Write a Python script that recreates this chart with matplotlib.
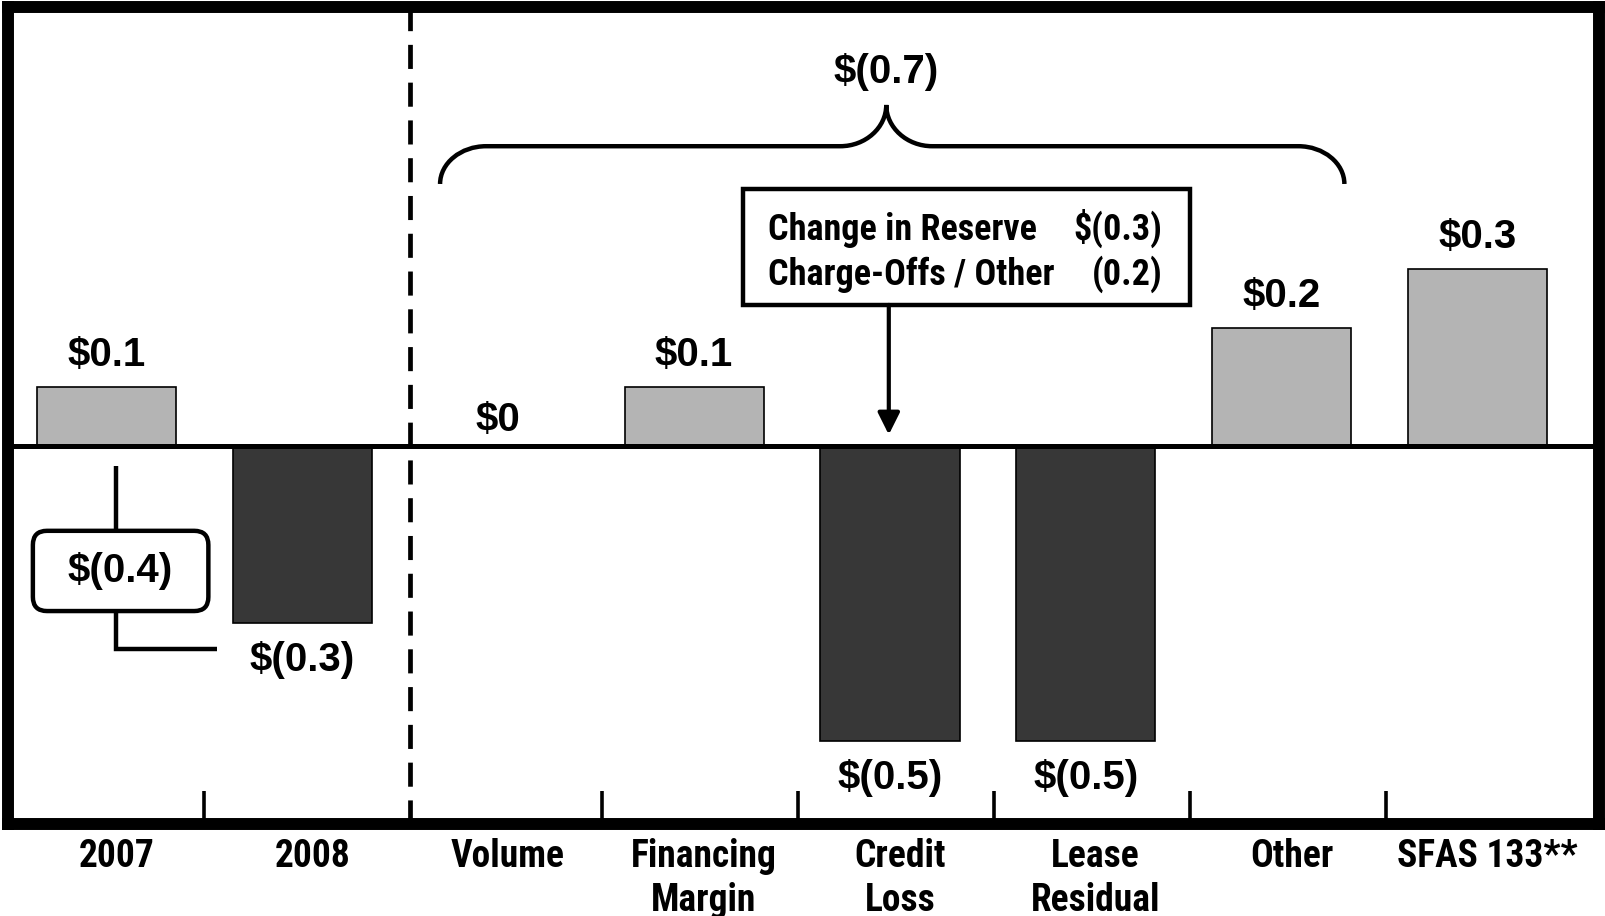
import matplotlib
matplotlib.use('Agg')
import matplotlib.pyplot as plt
from matplotlib import font_manager as fm
from matplotlib.patches import Rectangle, FancyBboxPatch, PathPatch
from matplotlib.path import Path
import numpy as np

# data
categories = ['2007', '2008', 'Volume', 'Financing\nMargin', 'Credit\nLoss',
              'Lease\nResidual', 'Other', 'SFAS 133**']
values = [0.1, -0.3, 0.0, 0.1, -0.5, -0.5, 0.2, 0.3]
value_labels = ['\\$0.1', '\\$(0.3)', '\\$0', '\\$0.1', '\\$(0.5)', '\\$(0.5)', '\\$0.2', '\\$0.3']
reserve_items = ['Change in Reserve', 'Charge-Offs / Other']
reserve_values = ['\\$(0.3)', '(0.2)']
total_label = '\\$(0.7)'
change_label = '\\$(0.4)'

light = '#b4b4b4'
dark = '#373737'
wide = ['Liberation Sans']


def is_bold(f):
    w = f.weight
    if isinstance(w, str):
        return 'bold' in w.lower() or w.lower() in ('heavy', 'black')
    return w >= 600


# look for a narrow bold face like Arial Narrow
narrow_fp = None
cands = [f for f in fm.fontManager.ttflist
         if is_bold(f) and 'italic' not in f.style.lower() and 'oblique' not in f.style.lower()
         and (f.stretch in ('condensed', 'semi-condensed', 'extra-condensed')
              or 'narrow' in f.name.lower() or 'condensed' in f.name.lower()
              or 'narrow' in f.fname.lower() or 'condensed' in f.fname.lower())]
for pref in ['liberationsansnarrow', 'arialnarrow', 'robotocondensed', 'opensanscondensed',
             'dejavusanscondensed', 'notosans', '']:
    hit = [f for f in cands if pref in f.fname.lower().replace('-', '').replace('_', '')]
    if hit:
        narrow_fp = fm.FontProperties(fname=hit[0].fname)
        break
if narrow_fp is None:
    narrow_fp = fm.FontProperties(family='Liberation Sans', weight='bold')
    cat_size, box_size = 22, 21
else:
    cat_size, box_size = 27, 26

fig = plt.figure(figsize=(16.05, 9.16), dpi=100)
ax = fig.add_axes([8/1605, 92/916, 1591/1605, 817/916])
x = np.arange(len(categories))
ax.set_xlim(-0.503, 7.62)
ax.set_ylim(-0.641, 0.744)
for s in ax.spines.values():
    s.set_linewidth(8.6)
ax.set_yticks([])

colors = [light if v >= 0 else dark for v in values]
ax.bar(x, values, width=0.71, color=colors, edgecolor='black', linewidth=1.2, zorder=2)
ax.axhline(0, color='black', lw=3.6, zorder=3)

# dashed separator and bottom ticks
ax.axvline(1.547, color='black', lw=3.4, ls=(0, (5.1, 2.9)), zorder=3)
ticks = [i + 0.5 + 0.03 * (i > 1) for i in range(len(categories) - 1) if i != 1]
ax.vlines(ticks, -0.641, -0.585, color='black', lw=2.6)

ax.set_xticks(x + 0.05, categories)
for lab in ax.get_xticklabels():
    lab.set_fontproperties(narrow_fp)
    lab.set_fontsize(cat_size)
    lab.set_linespacing(1.23)
ax.tick_params(axis='x', length=0, pad=10)

# value labels
for xi, v, t in zip(x, values, value_labels):
    off = 15 if v > 0 else (11 if v == 0 else -35)
    ax.annotate(t, (xi, v), xytext=(0, off), textcoords='offset points',
                ha='center', va='baseline', fontsize=29, fontweight='bold',
                fontfamily=wide, zorder=5)

# brace over the change drivers
xl, xr, xc = 1.703, 6.320, 3.981
y0, y1, y2 = 0.444, 0.508, 0.578
rx = 0.235
k = 0.55
verts = [(xl, y0),
         (xl, y0 + k * (y1 - y0)), (xl + rx * (1 - k), y1), (xl + rx, y1),
         (xc - rx, y1),
         (xc - rx * (1 - k), y1), (xc, y2 - k * (y2 - y1)), (xc, y2),
         (xc, y2 - k * (y2 - y1)), (xc + rx * (1 - k), y1), (xc + rx, y1),
         (xr - rx, y1),
         (xr - rx * (1 - k), y1), (xr, y0 + k * (y1 - y0)), (xr, y0)]
codes = [Path.MOVETO] + [Path.CURVE4] * 3 + [Path.LINETO] + [Path.CURVE4] * 6 + \
        [Path.LINETO] + [Path.CURVE4] * 3
ax.add_patch(PathPatch(Path(verts, codes), fc='none', ec='black', lw=3.2, zorder=4))
ax.text(xc, 0.615, total_label, ha='center', va='baseline', fontsize=29,
        fontweight='bold', fontfamily=wide)

# credit loss callout
ax.add_patch(Rectangle((3.25, 0.239), 5.53 - 3.25, 0.436 - 0.239, fc='white',
                       ec='black', lw=3.2, zorder=4))
for i, (name, val) in enumerate(zip(reserve_items, reserve_values)):
    yb = 0.349 - i * 0.076
    ax.text(3.378, yb, name, ha='left', va='baseline', fontproperties=narrow_fp,
            fontsize=box_size, zorder=5)
    ax.text(5.39, yb, val, ha='right', va='baseline', fontproperties=narrow_fp,
            fontsize=box_size, zorder=5)
ax.annotate('', xy=(3.994, 0.019), xytext=(3.994, 0.239),
            arrowprops=dict(arrowstyle='-|>,head_length=0.6,head_width=0.3',
                            mutation_scale=22, lw=3, color='black',
                            shrinkA=0, shrinkB=0), zorder=5)

# year over year change box
fig.canvas.draw()
p0 = ax.transData.transform((0, 0))
p1 = ax.transData.transform((1, 1))
aspect = (p1[0] - p0[0]) / (p1[1] - p0[1])
ax.add_patch(FancyBboxPatch((-0.376, -0.280), 0.896, 0.136,
                            boxstyle='round,pad=0,rounding_size=0.072',
                            mutation_aspect=aspect, fc='white', ec='black',
                            lw=3.2, zorder=4))
ax.text(0.069, -0.212, change_label, ha='center', va='center', fontsize=29,
        fontweight='bold', fontfamily=wide, zorder=5)
ax.plot([0.047, 0.047], [-0.034, -0.144], color='black', lw=3.2, solid_capstyle='butt')
ax.plot([0.047, 0.047, 0.564], [-0.280, -0.344, -0.344], color='black', lw=3.2,
        solid_capstyle='butt', solid_joinstyle='miter')

fig.savefig('out.png', dpi=100)
